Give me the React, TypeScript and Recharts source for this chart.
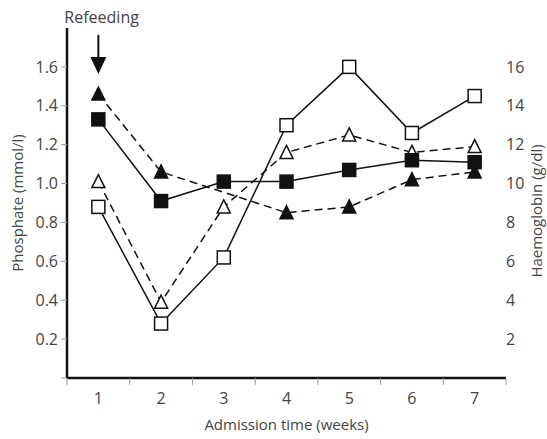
import React from "react";
import { LineChart, Line, XAxis, YAxis, ReferenceDot } from "recharts";

// weeks since admission
const weeks = [1, 2, 3, 4, 5, 6, 7];
// phosphate (mmol/l), open markers
const phosphateA = [0.88, 0.28, 0.62, 1.3, 1.6, 1.26, 1.45];
const phosphateB = [1.01, 0.39, 0.88, 1.16, 1.25, 1.16, 1.19];
// haemoglobin (g/dl), filled markers
const hbA = [13.3, 9.1, 10.1, 10.1, 10.7, 11.2, 11.1];
const hbB = [14.6, 10.6, null, 8.5, 8.8, 10.2, 10.6];

const phosphateTicks = [0, 0.2, 0.4, 0.6, 0.8, 1.0, 1.2, 1.4, 1.6];
const hbTicks = [2, 4, 6, 8, 10, 12, 14, 16];
const weekTicks = [0.5, 1, 1.5, 2, 2.5, 3, 3.5, 4, 4.5, 5, 5.5, 6, 6.5, 7, 7.5];

const data = weeks.map((w, i) => ({
  week: w,
  pA: phosphateA[i],
  pB: phosphateB[i],
  hA: hbA[i],
  hB: hbB[i],
}));

const FONT = "'Open Sans', sans-serif";
const INK = "#111";
const TEXT = "#444";

function square(filled: boolean) {
  return (props: any) => {
    const { cx, cy, index } = props;
    if (cx == null || cy == null) return <g key={index} />;
    return (
      <rect
        key={index}
        x={cx - 6.5}
        y={cy - 6.5}
        width={13}
        height={13}
        fill={filled ? INK : "#fff"}
        stroke={INK}
        strokeWidth={1.5}
      />
    );
  };
}

function triangle(filled: boolean) {
  return (props: any) => {
    const { cx, cy, index, value } = props;
    if (cx == null || cy == null || value == null) return <g key={index} />;
    return (
      <path
        key={index}
        d={`M${cx},${cy - 7} L${cx + 6.5},${cy + 6} L${cx - 6.5},${cy + 6} Z`}
        fill={filled ? INK : "#fff"}
        stroke={INK}
        strokeWidth={1.5}
      />
    );
  };
}

function WeekTick(props: any) {
  const { x, y, payload } = props;
  const v = payload.value;
  if (Number.isInteger(v)) {
    return (
      <text x={x} y={y + 26} textAnchor="middle" fill={TEXT} fontSize={16} fontFamily={FONT}>
        {v}
      </text>
    );
  }
  return <line x1={x} x2={x} y1={y} y2={y + 7} stroke="#999" strokeWidth={1} />;
}

function RefeedingArrow(props: any) {
  const { cx, cy } = props;
  return (
    <g>
      <text x={cx - 34} y={cy - 44} fill={TEXT} fontSize={16} fontFamily={FONT}>
        Refeeding
      </text>
      <line x1={cx} x2={cx} y1={cy - 32} y2={cy - 9} stroke={INK} strokeWidth={2} />
      <path d={`M${cx - 8},${cy - 10} L${cx + 8},${cy - 10} L${cx},${cy + 7} Z`} fill={INK} />
    </g>
  );
}

export default function App() {
  return (
    <div style={{ position: "fixed", left: 0, top: 0, background: "#fff" }}>
      <LineChart width={547} height={439} data={data} margin={{ top: 28, right: 0, bottom: 0, left: 0 }}>
        <XAxis
          dataKey="week"
          type="number"
          domain={[0.5, 7.5]}
          ticks={weekTicks}
          interval={0}
          height={61}
          tickSize={0}
          tickMargin={0}
          tickLine={false}
          axisLine={{ stroke: INK, strokeWidth: 2.5 }}
          tick={<WeekTick />}
          label={{
            value: "Admission time (weeks)",
            position: "center",
            dy: 16,
            fill: TEXT,
            fontSize: 15,
            fontFamily: FONT,
          }}
        />
        <YAxis
          yAxisId="p"
          domain={[0, 1.8]}
          ticks={phosphateTicks}
          interval={0}
          width={67}
          tickSize={6}
          tickMargin={3}
          tickFormatter={(v: number) => (v === 0 ? "" : v.toFixed(1))}
          tick={{ fill: TEXT, fontSize: 16, fontFamily: FONT }}
          tickLine={{ stroke: "#999" }}
          axisLine={{ stroke: INK, strokeWidth: 2.5 }}
          label={{
            value: "Phosphate (mmol/l)",
            angle: -90,
            position: "center",
            dx: -16,
            fill: TEXT,
            fontSize: 15,
            fontFamily: FONT,
          }}
        />
        <YAxis
          yAxisId="hb"
          orientation="right"
          domain={[0, 18]}
          ticks={hbTicks}
          interval={0}
          width={41}
          tickSize={0}
          tickMargin={0}
          tickLine={false}
          axisLine={false}
          tick={{ fill: TEXT, fontSize: 16, fontFamily: FONT, textAnchor: "start" }}
          label={{
            value: "Haemoglobin (g/dl)",
            angle: -90,
            position: "center",
            dx: 10,
            dy: 8,
            fill: TEXT,
            fontSize: 15,
            fontFamily: FONT,
          }}
        />
        <Line
          yAxisId="p"
          dataKey="pB"
          stroke={INK}
          strokeWidth={1.5}
          strokeDasharray="8 5"
          dot={triangle(false)}
          isAnimationActive={false}
        />
        <Line
          yAxisId="hb"
          dataKey="hB"
          stroke={INK}
          strokeWidth={1.5}
          strokeDasharray="8 5"
          connectNulls
          dot={triangle(true)}
          isAnimationActive={false}
        />
        <Line
          yAxisId="p"
          dataKey="pA"
          stroke={INK}
          strokeWidth={1.5}
          dot={square(false)}
          isAnimationActive={false}
        />
        <Line
          yAxisId="hb"
          dataKey="hA"
          stroke={INK}
          strokeWidth={1.5}
          dot={square(true)}
          isAnimationActive={false}
        />
        <ReferenceDot
          yAxisId="p"
          x={1}
          y={1.6}
          ifOverflow="visible"
          shape={(p: any) => <RefeedingArrow {...p} />}
        />
      </LineChart>
    </div>
  );
}
